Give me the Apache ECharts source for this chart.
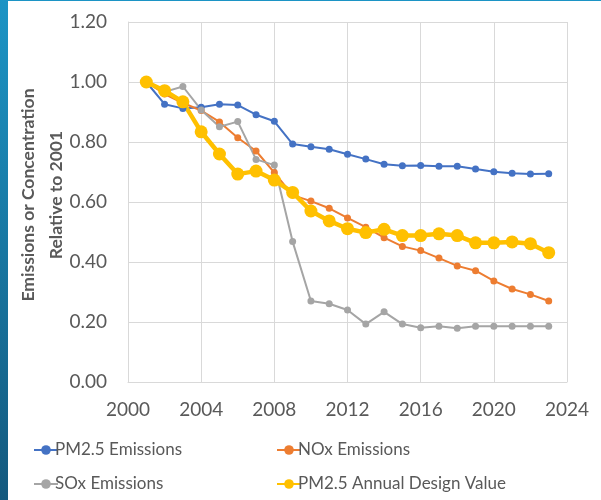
<!DOCTYPE html>
<html>
<head>
<meta charset="utf-8">
<script src="https://cdn.jsdelivr.net/npm/echarts@6/dist/echarts.min.js"></script>
<style>
	body { margin: 0; background: #fff; }
	#chartBox { width: 601px; height: 500px; }
	#edgeLeft { position: absolute; left: 0; top: 0; width: 8px; height: 500px; background: linear-gradient(#1c94c5, #14597e); }
	#edgeTop { position: absolute; left: 0; top: 0; width: 601px; height: 1px; background: #1c94c5; }
</style>
</head>
<body>
<div id="chartBox"></div>
<div id="edgeLeft"></div>
<div id="edgeTop"></div>
<script>
	var years = [2001, 2002, 2003, 2004, 2005, 2006, 2007, 2008, 2009, 2010, 2011, 2012,
		2013, 2014, 2015, 2016, 2017, 2018, 2019, 2020, 2021, 2022, 2023];
	var pm25Emis = [1.00, 0.926, 0.912, 0.916, 0.926, 0.923, 0.891, 0.869, 0.793, 0.784, 0.776, 0.759,
		0.743, 0.726, 0.721, 0.722, 0.719, 0.719, 0.710, 0.701, 0.696, 0.693, 0.694];
	var noxEmis = [1.00, 0.96, 0.93, 0.905, 0.867, 0.814, 0.770, 0.698, 0.623, 0.603, 0.579, 0.547,
		0.516, 0.481, 0.452, 0.438, 0.413, 0.387, 0.371, 0.337, 0.310, 0.292, 0.270];
	var soxEmis = [1.00, 0.967, 0.985, 0.907, 0.851, 0.868, 0.742, 0.723, 0.468, 0.270, 0.261, 0.240,
		0.193, 0.234, 0.193, 0.181, 0.186, 0.179, 0.186, 0.186, 0.186, 0.186, 0.186];
	var pm25DV = [1.00, 0.971, 0.934, 0.834, 0.760, 0.693, 0.703, 0.673, 0.632, 0.570, 0.537, 0.511,
		0.498, 0.509, 0.488, 0.488, 0.494, 0.488, 0.464, 0.464, 0.467, 0.461, 0.431];

	function pairs(vals) {
		return years.map(function (y, i) { return [y, vals[i]]; });
	}

	var txtColor = '#595959';
	var fontFam = 'Lato, "Open Sans", sans-serif';
	var myChart = echarts.init(document.getElementById('chartBox'));

	// one legend per entry so each sits in its own cell
	function legendAt(name, left, top) {
		return {
			left: left,
			top: top,
			padding: 0,
			itemWidth: 24,
			itemHeight: 12,
			data: [name],
			textStyle: { color: txtColor, fontSize: 17, fontFamily: fontFam, lineHeight: 20, padding: [0, 0, 0, -8] }
		};
	}

	var option = {
		backgroundColor: '#fff',
		animation: false,
		grid: { left: 128, right: 34, top: 22, bottom: 118, outerBoundsMode: 'none' },
		legend: [
			legendAt('PM2.5 Emissions', 33, 440),
			legendAt('SOx Emissions', 33, 474),
			legendAt('NOx Emissions', 276, 440),
			legendAt('PM2.5 Annual Design Value', 276, 474)
		],
		xAxis: {
			type: 'value',
			min: 2000,
			max: 2024,
			interval: 4,
			axisLine: { lineStyle: { color: '#d9d9d9' } },
			axisTick: { show: false },
			splitLine: { show: true, lineStyle: { color: '#d9d9d9', width: 1 } },
			axisLabel: {
				color: txtColor, fontSize: 19, fontFamily: fontFam, margin: 18,
				formatter: function (v) { return String(v); }
			}
		},
		yAxis: {
			type: 'value',
			min: 0,
			max: 1.2,
			interval: 0.2,
			name: 'Emissions or Concentration\nRelative to 2001',
			nameLocation: 'middle',
			nameGap: 58,
			nameMoveOverlap: false,
			nameTextStyle: {
				color: txtColor, fontSize: 17.5, fontWeight: 'bold', fontFamily: fontFam, lineHeight: 28,
				padding: [0, 0, 0, 14]
			},
			axisLine: { show: true, lineStyle: { color: '#d9d9d9' } },
			axisTick: { show: false },
			splitLine: { lineStyle: { color: '#d9d9d9', width: 1 } },
			axisLabel: {
				color: txtColor, fontSize: 19, fontFamily: fontFam, margin: 21,
				formatter: function (v) { return v.toFixed(2); }
			}
		},
		series: [{
				name: 'PM2.5 Emissions',
				type: 'line',
				data: pairs(pm25Emis),
				symbol: 'circle',
				symbolSize: 7,
				itemStyle: { color: '#4472c4' },
				lineStyle: { color: '#4472c4', width: 2 }
			},
			{
				name: 'NOx Emissions',
				type: 'line',
				data: pairs(noxEmis),
				symbol: 'circle',
				symbolSize: 7,
				itemStyle: { color: '#ed7d31' },
				lineStyle: { color: '#ed7d31', width: 2 }
			},
			{
				name: 'SOx Emissions',
				type: 'line',
				data: pairs(soxEmis),
				symbol: 'circle',
				symbolSize: 7,
				itemStyle: { color: '#a5a5a5' },
				lineStyle: { color: '#a5a5a5', width: 2 }
			},
			{
				name: 'PM2.5 Annual Design Value',
				type: 'line',
				data: pairs(pm25DV),
				symbol: 'circle',
				symbolSize: 13,
				itemStyle: { color: '#ffc000' },
				lineStyle: { color: '#ffc000', width: 4.5 }
			}
		]
	};

	myChart.setOption(option);
</script>
</body>
</html>
